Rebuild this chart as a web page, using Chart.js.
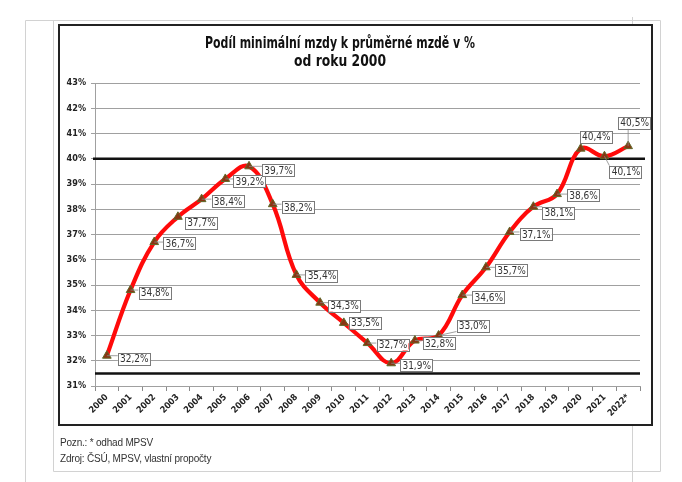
<!DOCTYPE html>
<html>
<head>
<meta charset="utf-8">
<script src="https://cdn.jsdelivr.net/npm/chart.js@4"></script>
<style>
  html,body{margin:0;padding:0;background:#fff;}
  #wrap{position:relative;width:682px;height:482px;}
  canvas{position:absolute;left:0;top:0;}
  .note{position:absolute;left:60px;font-family:'Liberation Sans',Arial,sans-serif;font-size:10px;color:#333;letter-spacing:-0.2px;}
</style>
</head>
<body>
<div id="wrap">
  <canvas id="c" width="682" height="482"></canvas>
  <div class="note" style="top:437px">Pozn.: * odhad MPSV</div>
  <div class="note" style="top:453px">Zdroj: ČSÚ, MPSV, vlastní propočty</div>
</div>
<script>
// ---- data ----
const years = ['2000','2001','2002','2003','2004','2005','2006','2007','2008','2009','2010','2011','2012','2013','2014','2015','2016','2017','2018','2019','2020','2021','2022*'];
const shareValues = [32.2,34.8,36.7,37.7,38.4,39.2,39.7,38.2,35.4,34.3,33.5,32.7,31.9,32.8,33.0,34.6,35.7,37.1,38.1,38.6,40.4,40.1,40.5];
const yTicks = [31,32,33,34,35,36,37,38,39,40,41,42,43];
const refLines = [40, 31.5];
const titleLines = ['Podíl minimální mzdy k průměrné mzdě v %', 'od roku 2000'];

// label placement (offset of box left edge / box centre from the point), styling only
const labelOffsets = [
  [11,3],[8,2.5],[9,1],[7,6],[10,2],[8,2],[13,4],[9,3],[9,1],[8,3],[5,0],[9,1.5],
  [9,2],[8,2.5],[18,-10],[10,2],[9,3],[10,2],[9,6],[10,1],[-1,-12],[5,15.5],[-10,-23.5]
];

const condFont = "'Liberation Sans Narrow','DejaVu Sans Condensed','Arial Narrow',Arial,sans-serif";

const fmt = v => v.toFixed(1).replace('.', ',') + '%';

function squeezedText(ctx, text, x, y, targetW) {
  const w = ctx.measureText(text).width;
  const k = Math.min(1, targetW / w);
  ctx.save();
  ctx.translate(x, y);
  ctx.scale(k, 1);
  ctx.fillText(text, 0, 0);
  ctx.restore();
}

const decorPlugin = {
  id: 'decor',
  beforeDraw(chart) {
    const ctx = chart.ctx;
    ctx.save();
    ctx.strokeStyle = '#d2d2d2';
    ctx.lineWidth = 1;
    ctx.beginPath();
    ctx.moveTo(25.5, 20.5); ctx.lineTo(25.5, 482);
    ctx.moveTo(25.5, 20.5); ctx.lineTo(660.5, 20.5);
    ctx.moveTo(53.5, 20.5); ctx.lineTo(53.5, 471.5); ctx.lineTo(660.5, 471.5); ctx.lineTo(660.5, 20.5);
    ctx.moveTo(632.5, 17); ctx.lineTo(632.5, 482);
    ctx.stroke();
    // white chart panel
    ctx.fillStyle = '#fff';
    ctx.fillRect(59, 25, 593, 400);
    ctx.strokeStyle = '#222';
    ctx.lineWidth = 2;
    ctx.strokeRect(59, 25, 593, 400);
    // title
    ctx.fillStyle = '#111';
    ctx.font = "bold 15px " + condFont;
    ctx.textAlign = 'center';
    ctx.textBaseline = 'middle';
    squeezedText(ctx, titleLines[0], 340, 44, 270);
    squeezedText(ctx, titleLines[1], 340, 62, 92);
    ctx.restore();
  },
  beforeDatasetsDraw(chart) {
    const ctx = chart.ctx, y = chart.scales.y, a = chart.chartArea;
    ctx.save();
    ctx.strokeStyle = '#111';
    ctx.lineWidth = 2.5;
    refLines.forEach((v, i) => {
      const py = y.getPixelForValue(v);
      ctx.beginPath();
      ctx.moveTo(i === 0 ? a.left - 2 : a.left, py);
      ctx.lineTo(i === 0 ? a.right + 5 : a.right, py);
      ctx.stroke();
    });
    ctx.restore();
  },
  afterDatasetsDraw(chart) {
    const ctx = chart.ctx;
    const meta = chart.getDatasetMeta(0);
    ctx.save();
    ctx.font = "10px " + condFont;
    ctx.textBaseline = 'middle';
    ctx.textAlign = 'center';
    meta.data.forEach((pt, i) => {
      const [dx, dy] = labelOffsets[i];
      const w = 32, h = 12;
      const bx = pt.x + dx, by = pt.y + dy - h / 2;
      // leader
      const cx = Math.max(bx, Math.min(pt.x, bx + w));
      const cy = Math.max(by, Math.min(pt.y, by + h));
      if (Math.hypot(cx - pt.x, cy - pt.y) > 7) {
        ctx.strokeStyle = '#888';
        ctx.lineWidth = 0.8;
        ctx.beginPath();
        ctx.moveTo(pt.x, pt.y);
        ctx.lineTo(cx, cy);
        ctx.stroke();
      }
      ctx.fillStyle = '#fff';
      ctx.fillRect(bx, by, w, h);
      ctx.strokeStyle = '#7a7a7a';
      ctx.lineWidth = 1;
      ctx.strokeRect(Math.round(bx) + 0.5, Math.round(by) + 0.5, w, h);
      ctx.fillStyle = '#333';
      ctx.fillText(fmt(shareValues[i]), bx + w / 2 + 0.5, by + h / 2 + 1);
    });
    ctx.restore();
  }
};

new Chart(document.getElementById('c'), {
  type: 'line',
  data: {
    labels: years,
    datasets: [{
      data: shareValues,
      borderColor: '#ff0a0a',
      borderWidth: 4.2,
      tension: 0.4,
      pointStyle: 'triangle',
      pointRadius: 5,
      pointBackgroundColor: '#8a3412',
      pointBorderColor: '#5f6a2a',
      pointBorderWidth: 1
    }]
  },
  options: {
    responsive: false,
    animation: false,
    layout: { padding: { left: 59, right: 42, top: 83, bottom: 66 } },
    plugins: { legend: { display: false }, title: { display: false }, tooltip: { enabled: false } },
    scales: {
      x: {
        offset: true,
        afterFit: s => { s.height = 30; },
        grid: { display: true, drawOnChartArea: false, drawTicks: true, tickLength: 5, offset: true, color: '#8a8a8a' },
        border: { display: true, color: '#a0a0a0' },
        ticks: { minRotation: 45, maxRotation: 45, padding: 1, color: '#222', autoSkip: false,
                 font: { family: condFont, size: 9, weight: 'bold' } }
      },
      y: {
        min: yTicks[0], max: yTicks[yTicks.length - 1],
        afterFit: s => { s.width = 36; },
        afterBuildTicks: s => { s.ticks = yTicks.map(v => ({ value: v })); },
        grid: { color: '#a0a0a0', lineWidth: 1, tickLength: 4 },
        border: { display: true, color: '#a0a0a0' },
        ticks: { padding: 5, color: '#222', callback: v => v + '%',
                 font: { family: condFont, size: 9, weight: 'bold' } }
      }
    }
  },
  plugins: [decorPlugin]
});
</script>
</body>
</html>
